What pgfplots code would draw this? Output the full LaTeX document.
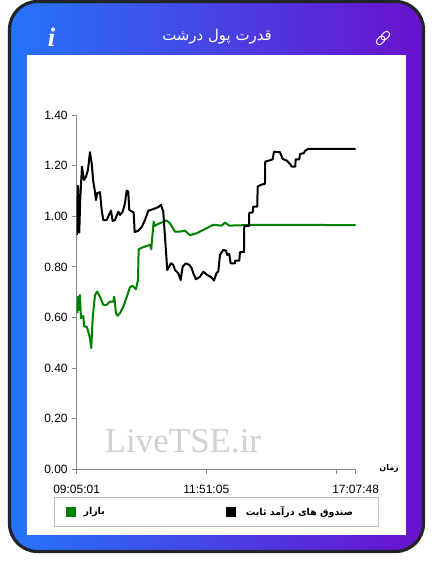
\documentclass[border=0pt]{standalone}
\usepackage{pgfplots}
\pgfplotsset{compat=1.18}
\usepackage{fontspec}
\setmainfont{Liberation Sans}
\newfontfamily\arabicfont[Script=Arabic]{DejaVu Sans}
\newfontfamily\serifwm{Liberation Serif}
\TeXXeTstate=1
\definecolor{gblue}{HTML}{2575FC}
\definecolor{gpurple}{HTML}{6A11CB}
\definecolor{edge}{HTML}{212529}
\definecolor{axgray}{HTML}{888888}
\definecolor{mkt}{HTML}{008000}
\pgfplotstableread{
x y
0.6 0.617
1.3 0.682
2.3 0.630
3.3 0.689
4.3 0.597
6.6 0.606
7.6 0.564
10 0.564
11.6 0.544
13.3 0.518
14.6 0.479
16 0.597
18.3 0.689
20.6 0.702
23.3 0.682
26.6 0.650
30 0.650
33.3 0.663
36.6 0.663
37.6 0.682
39.3 0.617
41 0.607
43.3 0.617
46.6 0.643
50 0.680
53.3 0.720
56 0.725
59.3 0.712
61.3 0.748
62 0.870
66.6 0.878
73.3 0.887
74.6 0.870
75.3 0.904
77 0.979
78.3 0.962
81.6 0.970
85 0.975
90 0.983
93.3 0.972
98.3 0.939
103.3 0.939
108.3 0.943
113.3 0.925
120 0.933
126.6 0.946
136.6 0.966
145 0.963
148.3 0.975
152.6 0.963
180 0.966
226.6 0.966
279 0.9645
}\market
\pgfplotstableread{
x y
0.3 0.926
1.3 1.121
2.6 0.935
3.6 1.071
5.3 1.196
7.3 1.143
9.3 1.156
11.3 1.183
13.3 1.253
15 1.209
16.6 1.137
18.3 1.097
19.3 1.064
20.6 1.091
23.3 1.095
25 1.025
26.6 0.985
30 0.985
32.3 1.005
34.3 1.022
36 0.981
38.3 0.985
41.6 1.018
43.3 1.005
46 1.018
48.3 1.051
50 1.101
51.6 1.097
52.6 1.025
57 1.015
58 0.937
61.6 0.943
65 0.957
68.3 0.985
71.6 1.022
76.6 1.028
81.6 1.036
84.3 1.045
86.6 1.018
90.6 0.788
94.3 0.814
96.6 0.808
98.3 0.788
101.6 0.775
104 0.748
106 0.801
109.3 0.814
112.6 0.808
115 0.795
116.6 0.775
119.3 0.751
123.3 0.761
126.6 0.781
130.6 0.768
134 0.761
137.3 0.746
140 0.777
141.6 0.781
143.3 0.847
146.6 0.867
149.3 0.864
150.6 0.847
152.6 0.851
154 0.814
158.3 0.814
158.4 0.825
162.6 0.825
163.3 0.858
167.3 0.858
167.6 0.962
172.3 0.962
172.6 1.014
176 1.014
176.6 1.038
180.6 1.038
181 1.117
184.3 1.124
188.3 1.128
188.6 1.216
192.6 1.220
196 1.225
197.3 1.255
203.3 1.253
206 1.226
210 1.220
213.3 1.207
215 1.196
218.6 1.196
219 1.225
222.6 1.225
223.3 1.246
227.3 1.249
228.3 1.258
231.6 1.266
279 1.266
}\fixedinc
\begin{document}
\begin{tikzpicture}
\begin{scope}[x=0.75pt,y=-0.75pt]
\useasboundingbox (0,0) rectangle (433,574);
\fill[white] (0,0) rectangle (433,574);
\draw[edge,line width=2.4pt,rounded corners=21pt,left color=gblue,right color=gpurple] (9.5,1.5) rectangle (423.5,551.5);
\fill[white] (27,55) rectangle (406,535);
\node[text=white,font=\serifwm\bfseries\itshape,scale=2.0] at (51.5,37) {i};
\begin{scope}[shift={(383,38)},rotate=45,white,line width=0.7pt]
\draw[rounded corners=2pt] (-8,-3) rectangle (1.5,3);
\draw[rounded corners=2pt] (-1.5,-3) rectangle (8,3);
\end{scope}
\node[text=black!18,font=\serifwm,scale=2.62,anchor=base] at (183,452) {LiveTSE.ir};
\end{scope}
\begin{axis}[
  at={(57.5pt,-352.1pt)},anchor=origin,
  scale only axis,width=209.25pt,height=265.9pt,
  xmin=0,xmax=279,ymin=0,ymax=1.4,
  axis x line*=bottom,axis y line*=left,
  axis line style={axgray,line width=0.8pt,-},
  tick style={axgray,line width=0.6pt},
  major tick length=3.75pt,tick align=outside,
  xtick={0,129.6,259.6,279},
  xticklabels={09:05:01,11:51:05,,17:07:48},
  ytick={0,0.2,0.4,0.6,0.8,1.0,1.2,1.4},
  /pgf/number format/.cd,fixed,zerofill,precision=2,assume math mode=true,/pgfplots/.cd,
  tick label style={font=\fontsize{9}{10}\selectfont,text=black},
  x tick label style={yshift=-4.2pt},
  y tick label style={xshift=0.5pt},
  title={\arabicfont\beginR قدرت پول درشت\endR},
  every axis title shift=0pt,
  title style={at={(0.503,1.2200)},anchor=center,text=white,font=\fontsize{11.2}{12}\selectfont},
  xlabel={\arabicfont\bfseries\beginR زمان\endR},
  xlabel style={at={(1.12,0.003)},anchor=center,font=\fontsize{6}{7}\selectfont},
  legend columns=2,
  legend style={at={(-0.0806,-0.0780)},anchor=north west,draw=black!25,line width=0.6pt,
    font=\fontsize{7.1}{9}\selectfont,inner xsep=8.25pt,inner ysep=4.5pt,
    column sep=0pt},
  legend image code/.code={\fill[#1,draw=none] (0cm,-3.75pt) rectangle (7.5pt,3.75pt);},
]
\addplot[mkt,line width=1.5pt,line join=round] table[x=x,y=y] {\market};
\addlegendentry{\makebox[108.75pt][l]{\hspace{4pt}\arabicfont\bfseries\beginR بازار\endR}}
\addplot[black,line width=1.5pt,line join=round] table[x=x,y=y] {\fixedinc};
\addlegendentry{\makebox[94.75pt][l]{\hspace{5.5pt}\arabicfont\bfseries\beginR صندوق های درآمد ثابت\endR}}
\end{axis}
\end{tikzpicture}
\end{document}
